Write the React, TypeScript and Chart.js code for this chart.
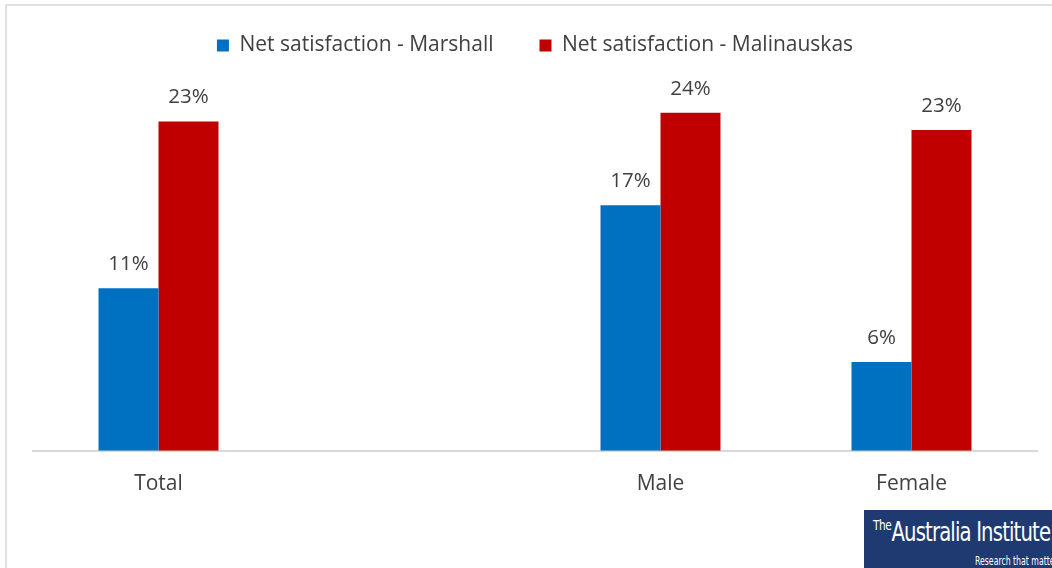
import React, { useEffect, useRef } from "react";
import { Chart, registerables } from "chart.js";

Chart.register(...registerables);

const categories = ["Total", "", "Male", "Female"];
const marshall = [11.45, null, 17.3, 6.25];
const malinauskas = [23.2, null, 23.8, 22.6];
const seriesNames = ["Net satisfaction - Marshall", "Net satisfaction - Malinauskas"];
const seriesColors = ["#0070C0", "#C00000"];

const FONT = "'Open Sans', 'Noto Sans', sans-serif";

const labelPlugin = {
  id: "barLabels",
  afterDatasetsDraw(chart: any) {
    const ctx = chart.ctx;
    ctx.save();
    ctx.font = `20.5px ${FONT}`;
    ctx.fillStyle = "#404040";
    ctx.textAlign = "center";
    ctx.textBaseline = "middle";
    chart.data.datasets.forEach((ds: any, i: number) => {
      const meta = chart.getDatasetMeta(i);
      meta.data.forEach((bar: any, j: number) => {
        const v = ds.data[j];
        if (v === null || v === undefined) return;
        ctx.fillText(Math.round(v) + "%", bar.x, bar.y - 24);
      });
    });
    ctx.restore();
  },
};

export default function App() {
  const ref = useRef<HTMLCanvasElement>(null);
  useEffect(() => {
    if (!ref.current) return;
    const chart = new Chart(ref.current, {
      type: "bar",
      data: {
        labels: categories,
        datasets: [
          { label: seriesNames[0], data: marshall, backgroundColor: seriesColors[0] },
          { label: seriesNames[1], data: malinauskas, backgroundColor: seriesColors[1] },
        ],
      },
      options: {
        responsive: false,
        animation: false,
        devicePixelRatio: 1,
        layout: { padding: { left: 33, right: 15, top: -11, bottom: 58 } },
        plugins: {
          legend: {
            position: "top",
            labels: {
              boxWidth: 12,
              boxHeight: 12,
              padding: 46,
              color: "#404040",
              font: { family: FONT, size: 21 },
            },
          },
          tooltip: { enabled: false },
        },
        datasets: { bar: { barPercentage: 1, categoryPercentage: 0.478 } },
        scales: {
          x: {
            grid: { display: false },
            border: { display: true, color: "#d9d9d9", width: 2 },
            ticks: { color: "#404040", font: { family: FONT, size: 21 }, padding: 13 },
          },
          y: { display: false, min: 0, max: 27.1 },
        },
      },
      plugins: [labelPlugin],
    } as any);
    return () => chart.destroy();
  }, []);
  return (
    <div style={{ position: "fixed", left: 0, top: 0, width: 1052, height: 568, background: "#fff", overflow: "hidden" }}>
      <div style={{ position: "absolute", left: 5, top: 4, width: 1100, height: 600, borderLeft: "2px solid #e0e0e0", borderTop: "2px solid #e0e0e0" }} />
      <canvas ref={ref} width={1052} height={568} style={{ position: "absolute", left: 0, top: 0 }} />
      <div style={{ position: "absolute", left: 864, top: 510, width: 188, height: 58, background: "#1f3a70", color: "#fff", overflow: "hidden", fontFamily: "'Liberation Sans Narrow', 'DejaVu Sans Condensed', sans-serif" }}>
        <div style={{ position: "absolute", left: 9, top: 7, whiteSpace: "nowrap", fontSize: 26, letterSpacing: -1, transform: "scaleX(0.84)", transformOrigin: "left" }}>
          <span style={{ fontSize: 14, verticalAlign: "top", letterSpacing: -0.5 }}>The</span>Australia Institute
        </div>
        <div style={{ position: "absolute", left: 111, top: 44, whiteSpace: "nowrap", fontSize: 12, transform: "scaleX(0.72)", transformOrigin: "left" }}>
          Research that matters
        </div>
      </div>
    </div>
  );
}
